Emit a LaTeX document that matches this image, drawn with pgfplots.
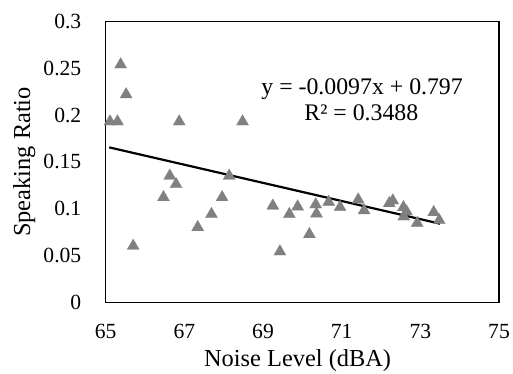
\documentclass[border=0pt]{standalone}
\usepackage{fontspec}
\setmainfont{Liberation Serif}
\usepackage{pgfplots}
\pgfplotsset{compat=1.18}
\definecolor{markgray}{RGB}{128,128,128}
\begin{document}
\begin{tikzpicture}
\begin{axis}[
  name=ax,
  scale only axis,
  width=196.7bp, height=140.3bp,
  xmin=65, xmax=75, ymin=0, ymax=0.3,
  xtick={65,67,69,71,73,75},
  ytick={0,0.05,0.1,0.15,0.2,0.25,0.3},
  yticklabels={0,0.05,0.1,0.15,0.2,0.25,0.3},
  major tick length=0pt,
  axis line style={line width=0.65bp, black},
  /pgf/number format/assume math mode=true,
  tick label style={font=\fontsize{10.8bp}{12bp}\selectfont, inner sep=0pt},
  xticklabel style={anchor=north, yshift=-10.9bp},
  yticklabel style={anchor=east, xshift=-12bp},
  xlabel={Noise Level (dBA)},
  ylabel={Speaking Ratio},
  label style={font=\fontsize{12.2bp}{14bp}\selectfont, inner sep=0pt},
  xlabel style={at={(axis description cs:0.488,-0.2306)}, anchor=base},
  ylabel style={at={(axis description cs:-0.1924,0.5)}, anchor=base},
  clip=false,
]
\addplot[markgray, only marks, mark=triangle*, mark size=3.5bp,
  mark options={solid, fill=markgray, draw=markgray, line width=0.1bp, yshift=-0.85bp}] coordinates {
  (65.11,0.195) (65.30,0.195) (65.38,0.256) (65.52,0.224) (65.70,0.062)
  (66.47,0.114) (66.63,0.137) (66.79,0.128) (66.87,0.195) (67.34,0.082)
  (67.69,0.096) (67.96,0.114) (68.14,0.137) (68.48,0.195) (69.25,0.105)
  (69.43,0.056) (69.67,0.096) (69.88,0.104) (70.18,0.0745) (70.34,0.1063)
  (70.36,0.0965) (70.67,0.109) (70.96,0.1035) (71.42,0.1115) (71.57,0.100)
  (72.21,0.1076) (72.30,0.1105) (72.57,0.1033) (72.65,0.0987) (72.58,0.0934)
  (72.92,0.0865) (73.34,0.098) (73.48,0.0895)
};
\addplot[black, line width=1.1bp] coordinates {(65.09,0.1656) (73.50,0.0840)};
\node[anchor=base, font=\fontsize{11.9bp}{14bp}\selectfont, inner sep=0pt]
  at (axis cs:71.52,0.2217) {y = -0.0097x + 0.797};
\node[anchor=base, font=\fontsize{11.9bp}{14bp}\selectfont, inner sep=0pt]
  at (axis cs:71.50,0.1942) {R² = 0.3488};
\end{axis}
\pgfresetboundingbox
\useasboundingbox ([shift={(-52.85bp,-35.85bp)}]ax.south west) rectangle ([shift={(7bp,10.85bp)}]ax.north east);
\end{tikzpicture}
\end{document}
